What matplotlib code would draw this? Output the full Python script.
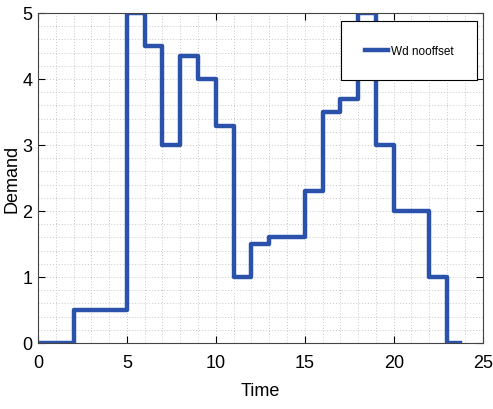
import matplotlib
matplotlib.use("Agg")
import matplotlib.pyplot as plt
from matplotlib.ticker import MultipleLocator

# step data (value held from each time to the next)
times = [0, 1, 2, 3, 4, 5, 6, 7, 8, 9, 10, 11, 12, 13, 14, 15, 16, 17, 18, 19, 20, 21, 22, 23, 23.75]
demand = [0, 0, 0.5, 0.5, 0.5, 5, 4.5, 3, 4.35, 4, 3.28, 1, 1.5, 1.6, 1.6, 2.3, 3.5, 3.7, 5, 3, 2, 2, 1, 0, 0]

plt.rcParams['font.family'] = ['Liberation Sans', 'DejaVu Sans']

fig = plt.figure(figsize=(4.93, 4.10), dpi=100)
ax = fig.add_axes([0.077, 0.161, 0.902, 0.805])

ax.step(times, demand, where='post', color='#2b52aa', linewidth=3.2, label='Wd nooffset')

ax.set_xlim(0, 25)
ax.set_ylim(0, 5)
ax.xaxis.set_major_locator(MultipleLocator(5))
ax.xaxis.set_minor_locator(MultipleLocator(1))
ax.yaxis.set_major_locator(MultipleLocator(1))
ax.yaxis.set_minor_locator(MultipleLocator(0.2))
ax.grid(True, which='both', linestyle=(0, (1, 2)), color='#c8c8c8', linewidth=0.7)
ax.tick_params(which='both', direction='in', top=True, right=True, labelsize=13)
ax.tick_params(which='major', length=5)
ax.tick_params(axis='x', pad=8)
ax.tick_params(axis='y', pad=4)
ax.tick_params(which='minor', length=0)
for s in ax.spines.values():
    s.set_color('#444444')
    s.set_linewidth(0.8)

ax.set_xlabel('Time', fontsize=13, labelpad=8)
ax.set_ylabel('Demand', fontsize=13)
ax.yaxis.set_label_coords(-0.04, 0.5)

leg = ax.legend(loc='upper right', bbox_to_anchor=(0.988, 0.975), fontsize=8.5, fancybox=False,
                edgecolor='black', framealpha=1, borderpad=2.0, borderaxespad=0,
                handlelength=1.9, handletextpad=0.3)
leg.get_frame().set_linewidth(0.8)

fig.savefig('out.png', dpi=100)
